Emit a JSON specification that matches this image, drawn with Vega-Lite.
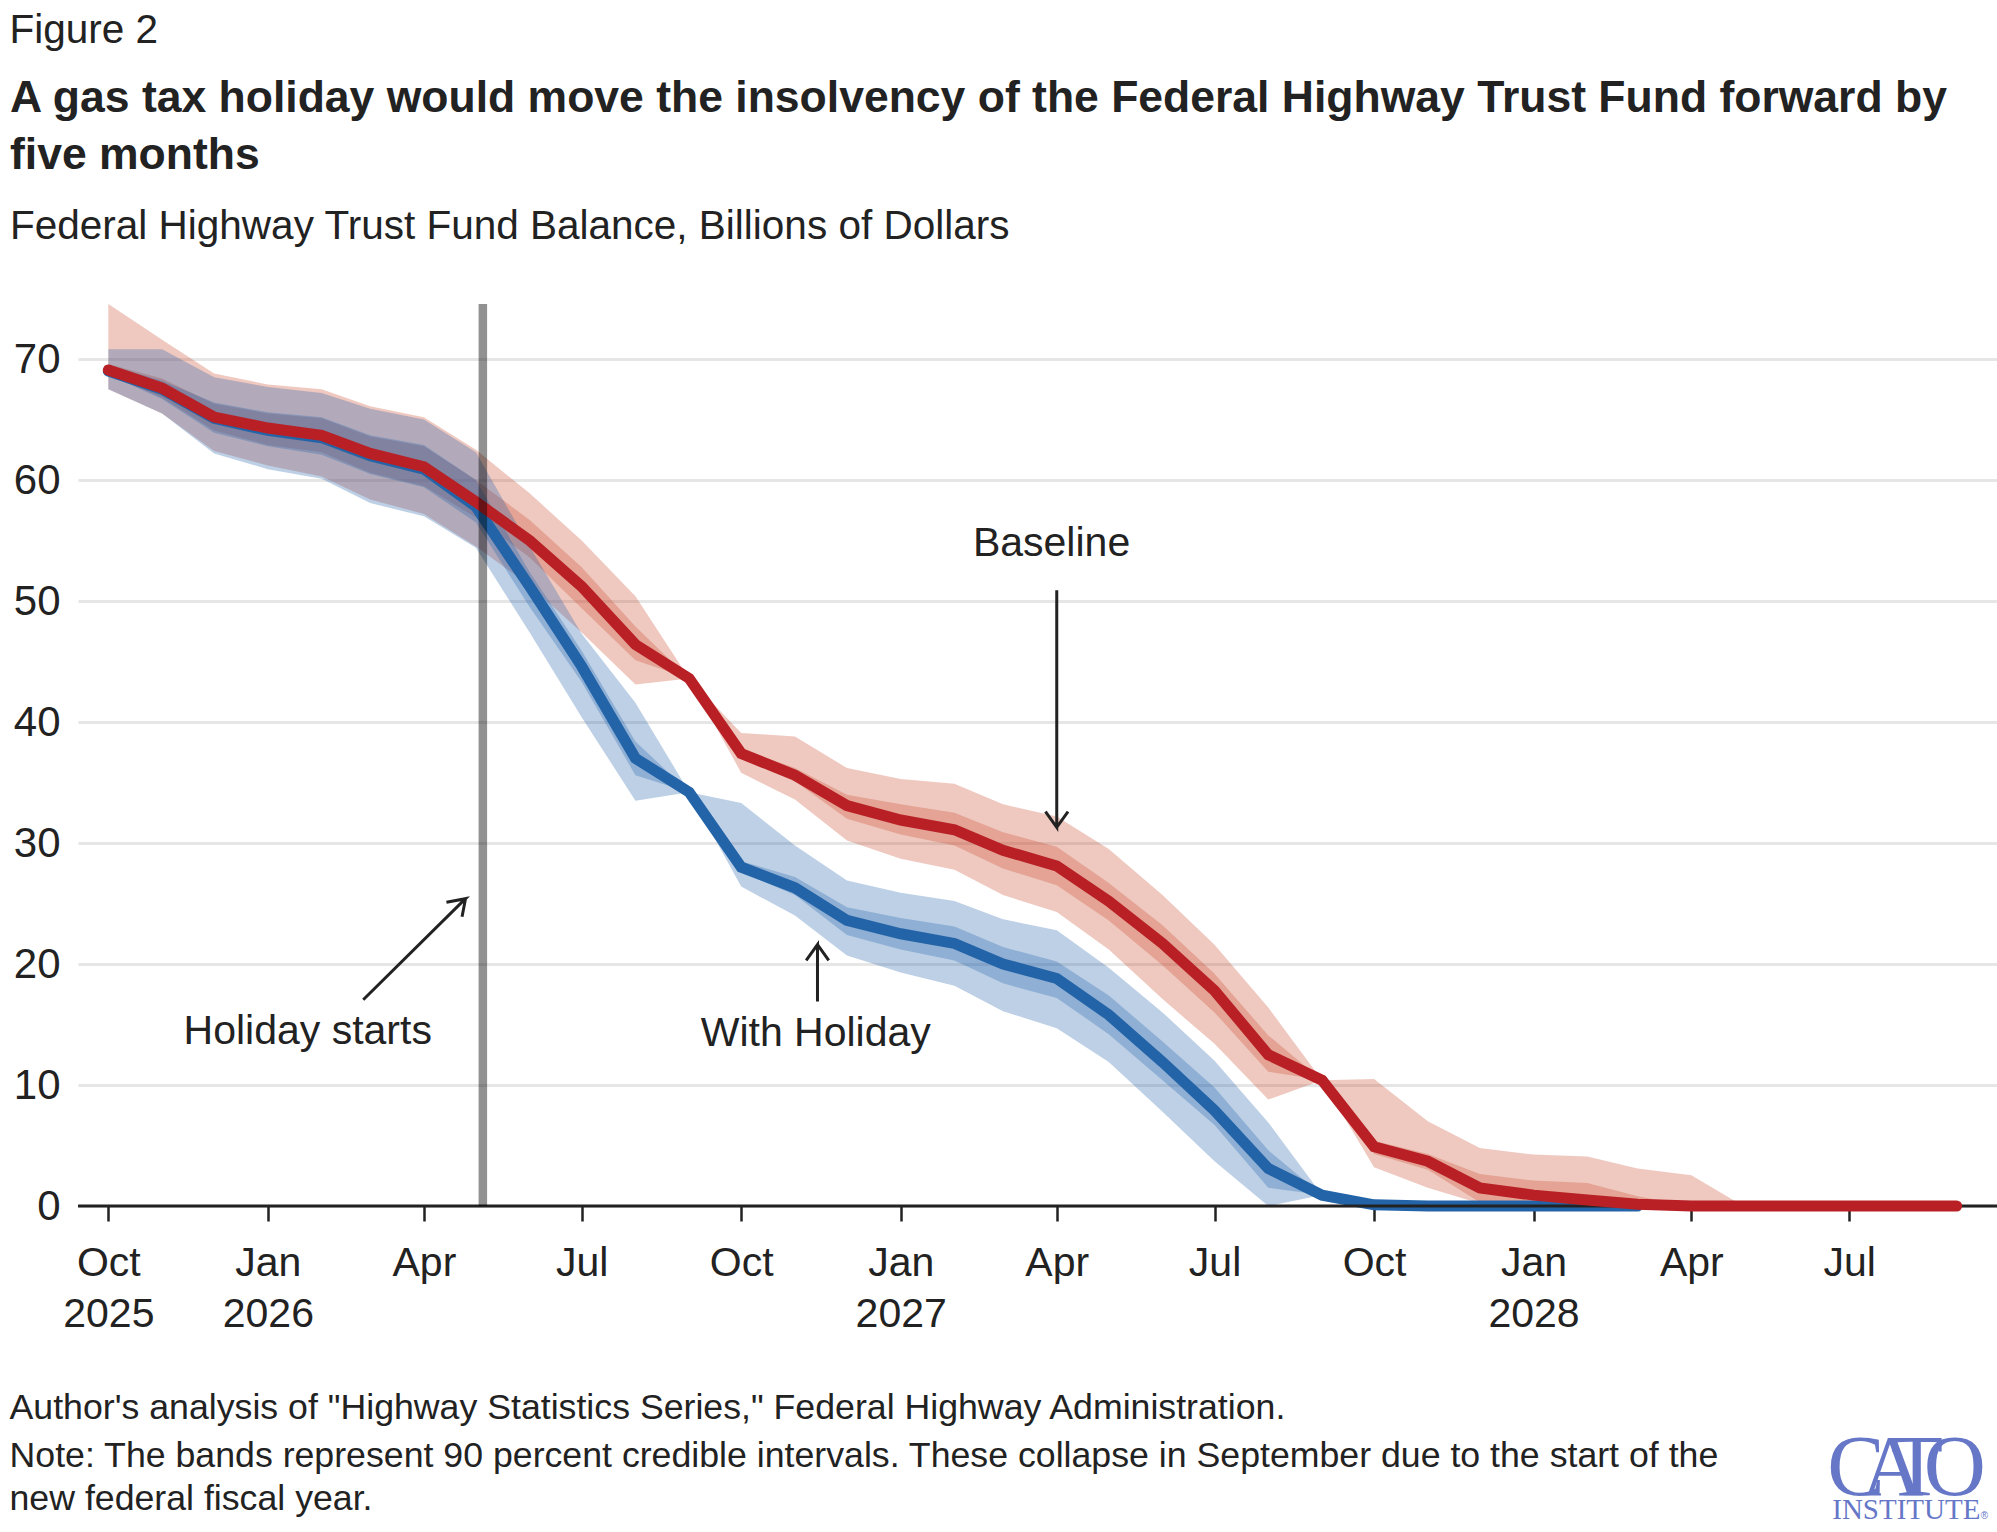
{
  "$schema": "https://vega.github.io/schema/vega-lite/v6.json",
  "width": 1919,
  "height": 902,
  "autosize": "none",
  "padding": {"left": 78, "top": 304, "right": 0, "bottom": 326},
  "background": "white",
  "title": {
    "text": ["A gas tax holiday would move the insolvency of the Federal Highway Trust Fund forward by", "five months"],
    "subtitle": "Federal Highway Trust Fund Balance, Billions of Dollars",
    "anchor": "start",
    "frame": "group",
    "dx": -68,
    "offset": -237.5,
    "font": "Liberation Sans",
    "fontSize": 44.5,
    "fontWeight": "bold",
    "lineHeight": 57,
    "color": "#222222",
    "subtitleFont": "Liberation Sans",
    "subtitleFontSize": 40.5,
    "subtitleColor": "#222222",
    "subtitlePadding": 29
  },
  "datasets": {
    "fund": [
      {"series": "Baseline", "date": "2025-10-01T00:00:00", "value": 69.1, "lo90": 67.5, "hi90": 74.55, "lo50": 68.7, "hi50": 69.6},
      {"series": "Baseline", "date": "2025-11-01T00:00:00", "value": 67.6, "lo90": 65.5, "hi90": 71.6, "lo50": 66.8, "hi50": 68.4},
      {"series": "Baseline", "date": "2025-12-01T00:00:00", "value": 65.2, "lo90": 62.4, "hi90": 68.8, "lo50": 64.1, "hi50": 66.3},
      {"series": "Baseline", "date": "2026-01-01T00:00:00", "value": 64.3, "lo90": 61.2, "hi90": 67.9, "lo50": 62.9, "hi50": 65.5},
      {"series": "Baseline", "date": "2026-02-01T00:00:00", "value": 63.7, "lo90": 60.3, "hi90": 67.5, "lo50": 62.3, "hi50": 65.1},
      {"series": "Baseline", "date": "2026-03-01T00:00:00", "value": 62.2, "lo90": 58.4, "hi90": 66.1, "lo50": 60.6, "hi50": 63.6},
      {"series": "Baseline", "date": "2026-04-01T00:00:00", "value": 61.1, "lo90": 57.2, "hi90": 65.2, "lo50": 59.5, "hi50": 62.8},
      {"series": "Baseline", "date": "2026-05-01T00:00:00", "value": 58.2, "lo90": 54.5, "hi90": 62.5, "lo50": 56.9, "hi50": 60.0},
      {"series": "Baseline", "date": "2026-06-01T00:00:00", "value": 55.0, "lo90": 51.3, "hi90": 58.9, "lo50": 53.6, "hi50": 56.7},
      {"series": "Baseline", "date": "2026-07-01T00:00:00", "value": 51.2, "lo90": 47.4, "hi90": 55.0, "lo50": 49.4, "hi50": 52.8},
      {"series": "Baseline", "date": "2026-08-01T00:00:00", "value": 46.4, "lo90": 43.1, "hi90": 50.4, "lo50": 45.1, "hi50": 47.9},
      {"series": "Baseline", "date": "2026-09-01T00:00:00", "value": 43.6, "lo90": 43.6, "hi90": 43.6, "lo50": 43.6, "hi50": 43.6},
      {"series": "Baseline", "date": "2026-10-01T00:00:00", "value": 37.4, "lo90": 35.8, "hi90": 39.1, "lo50": 37.0, "hi50": 37.8},
      {"series": "Baseline", "date": "2026-11-01T00:00:00", "value": 35.6, "lo90": 33.6, "hi90": 38.8, "lo50": 35.1, "hi50": 36.2},
      {"series": "Baseline", "date": "2026-12-01T00:00:00", "value": 33.1, "lo90": 30.2, "hi90": 36.2, "lo50": 32.0, "hi50": 34.0},
      {"series": "Baseline", "date": "2027-01-01T00:00:00", "value": 31.9, "lo90": 28.7, "hi90": 35.3, "lo50": 30.7, "hi50": 33.2},
      {"series": "Baseline", "date": "2027-02-01T00:00:00", "value": 31.1, "lo90": 27.8, "hi90": 34.9, "lo50": 29.8, "hi50": 32.5},
      {"series": "Baseline", "date": "2027-03-01T00:00:00", "value": 29.4, "lo90": 25.7, "hi90": 33.2, "lo50": 27.9, "hi50": 30.9},
      {"series": "Baseline", "date": "2027-04-01T00:00:00", "value": 28.1, "lo90": 24.3, "hi90": 32.2, "lo50": 26.5, "hi50": 29.7},
      {"series": "Baseline", "date": "2027-05-01T00:00:00", "value": 25.2, "lo90": 21.2, "hi90": 29.5, "lo50": 23.6, "hi50": 26.7},
      {"series": "Baseline", "date": "2027-06-01T00:00:00", "value": 21.7, "lo90": 17.1, "hi90": 25.7, "lo50": 19.9, "hi50": 23.2},
      {"series": "Baseline", "date": "2027-07-01T00:00:00", "value": 17.8, "lo90": 13.4, "hi90": 21.6, "lo50": 16.0, "hi50": 19.2},
      {"series": "Baseline", "date": "2027-08-01T00:00:00", "value": 12.5, "lo90": 8.8, "hi90": 16.4, "lo50": 11.1, "hi50": 14.1},
      {"series": "Baseline", "date": "2027-09-01T00:00:00", "value": 10.4, "lo90": 10.4, "hi90": 10.4, "lo50": 10.4, "hi50": 10.4},
      {"series": "Baseline", "date": "2027-10-01T00:00:00", "value": 4.9, "lo90": 3.2, "hi90": 10.5, "lo50": 4.3, "hi50": 5.4},
      {"series": "Baseline", "date": "2027-11-01T00:00:00", "value": 3.7, "lo90": 1.5, "hi90": 7.0, "lo50": 3.0, "hi50": 4.3},
      {"series": "Baseline", "date": "2027-12-01T00:00:00", "value": 1.5, "lo90": 0.2, "hi90": 4.8, "lo50": 0.3, "hi50": 2.65},
      {"series": "Baseline", "date": "2028-01-01T00:00:00", "value": 0.9, "lo90": 0, "hi90": 4.25, "lo50": 0, "hi50": 2.1},
      {"series": "Baseline", "date": "2028-02-01T00:00:00", "value": 0.5, "lo90": 0, "hi90": 4.1, "lo50": 0, "hi50": 1.9},
      {"series": "Baseline", "date": "2028-03-01T00:00:00", "value": 0.15, "lo90": 0, "hi90": 3.1, "lo50": 0, "hi50": 0.8},
      {"series": "Baseline", "date": "2028-04-01T00:00:00", "value": 0, "lo90": 0, "hi90": 2.55, "lo50": 0, "hi50": 0},
      {"series": "Baseline", "date": "2028-05-01T00:00:00", "value": 0, "lo90": 0, "hi90": 0, "lo50": 0, "hi50": 0},
      {"series": "Baseline", "date": "2028-06-01T00:00:00", "value": 0, "lo90": 0, "hi90": 0, "lo50": 0, "hi50": 0},
      {"series": "Baseline", "date": "2028-07-01T00:00:00", "value": 0, "lo90": 0, "hi90": 0, "lo50": 0, "hi50": 0},
      {"series": "Baseline", "date": "2028-08-01T00:00:00", "value": 0, "lo90": 0, "hi90": 0, "lo50": 0, "hi50": 0},
      {"series": "Baseline", "date": "2028-09-01T00:00:00", "value": 0, "lo90": 0, "hi90": 0, "lo50": 0, "hi50": 0},
      {"series": "With Holiday", "date": "2025-10-01T00:00:00", "value": 69.0, "lo90": 67.5, "hi90": 70.8, "lo50": 68.7, "hi50": 69.5},
      {"series": "With Holiday", "date": "2025-11-01T00:00:00", "value": 67.5, "lo90": 65.5, "hi90": 70.8, "lo50": 66.7, "hi50": 68.2},
      {"series": "With Holiday", "date": "2025-12-01T00:00:00", "value": 65.1, "lo90": 62.2, "hi90": 68.5, "lo50": 63.9, "hi50": 66.4},
      {"series": "With Holiday", "date": "2026-01-01T00:00:00", "value": 64.1, "lo90": 60.9, "hi90": 67.7, "lo50": 62.8, "hi50": 65.6},
      {"series": "With Holiday", "date": "2026-02-01T00:00:00", "value": 63.5, "lo90": 60.1, "hi90": 67.2, "lo50": 62.1, "hi50": 65.2},
      {"series": "With Holiday", "date": "2026-03-01T00:00:00", "value": 62.0, "lo90": 58.1, "hi90": 65.9, "lo50": 60.5, "hi50": 63.7},
      {"series": "With Holiday", "date": "2026-04-01T00:00:00", "value": 60.9, "lo90": 57.0, "hi90": 65.0, "lo50": 59.4, "hi50": 62.9},
      {"series": "With Holiday", "date": "2026-05-01T00:00:00", "value": 57.8, "lo90": 54.4, "hi90": 62.3, "lo50": 56.5, "hi50": 60.0},
      {"series": "With Holiday", "date": "2026-06-01T00:00:00", "value": 51.2, "lo90": 47.4, "hi90": 54.5, "lo50": 49.5, "hi50": 52.4},
      {"series": "With Holiday", "date": "2026-07-01T00:00:00", "value": 44.6, "lo90": 40.4, "hi90": 47.3, "lo50": 43.3, "hi50": 45.9},
      {"series": "With Holiday", "date": "2026-08-01T00:00:00", "value": 37.0, "lo90": 33.5, "hi90": 41.6, "lo50": 35.6, "hi50": 38.4},
      {"series": "With Holiday", "date": "2026-09-01T00:00:00", "value": 34.2, "lo90": 34.2, "hi90": 34.2, "lo50": 34.2, "hi50": 34.2},
      {"series": "With Holiday", "date": "2026-10-01T00:00:00", "value": 28.0, "lo90": 26.4, "hi90": 33.3, "lo50": 27.6, "hi50": 28.5},
      {"series": "With Holiday", "date": "2026-11-01T00:00:00", "value": 26.3, "lo90": 24.0, "hi90": 29.8, "lo50": 25.7, "hi50": 27.2},
      {"series": "With Holiday", "date": "2026-12-01T00:00:00", "value": 23.6, "lo90": 20.7, "hi90": 26.9, "lo50": 22.4, "hi50": 24.7},
      {"series": "With Holiday", "date": "2027-01-01T00:00:00", "value": 22.5, "lo90": 19.3, "hi90": 25.9, "lo50": 21.2, "hi50": 23.8},
      {"series": "With Holiday", "date": "2027-02-01T00:00:00", "value": 21.7, "lo90": 18.2, "hi90": 25.2, "lo50": 20.3, "hi50": 23.1},
      {"series": "With Holiday", "date": "2027-03-01T00:00:00", "value": 20.0, "lo90": 16.1, "hi90": 23.7, "lo50": 18.4, "hi50": 21.4},
      {"series": "With Holiday", "date": "2027-04-01T00:00:00", "value": 18.8, "lo90": 14.7, "hi90": 22.8, "lo50": 17.2, "hi50": 20.2},
      {"series": "With Holiday", "date": "2027-05-01T00:00:00", "value": 15.8, "lo90": 11.9, "hi90": 19.7, "lo50": 14.2, "hi50": 17.4},
      {"series": "With Holiday", "date": "2027-06-01T00:00:00", "value": 11.9, "lo90": 7.8, "hi90": 16.0, "lo50": 10.4, "hi50": 13.6},
      {"series": "With Holiday", "date": "2027-07-01T00:00:00", "value": 7.9, "lo90": 3.7, "hi90": 12.0, "lo50": 6.7, "hi50": 9.8},
      {"series": "With Holiday", "date": "2027-08-01T00:00:00", "value": 3.1, "lo90": 0, "hi90": 6.9, "lo50": 1.5, "hi50": 4.6},
      {"series": "With Holiday", "date": "2027-09-01T00:00:00", "value": 0.9, "lo90": 0.9, "hi90": 0.9, "lo50": 0.9, "hi50": 0.9},
      {"series": "With Holiday", "date": "2027-10-01T00:00:00", "value": 0.1, "lo90": 0.1, "hi90": 0.1, "lo50": 0.1, "hi50": 0.1},
      {"series": "With Holiday", "date": "2027-11-01T00:00:00", "value": 0, "lo90": 0, "hi90": 0, "lo50": 0, "hi50": 0},
      {"series": "With Holiday", "date": "2027-12-01T00:00:00", "value": 0, "lo90": 0, "hi90": 0, "lo50": 0, "hi50": 0},
      {"series": "With Holiday", "date": "2028-01-01T00:00:00", "value": 0, "lo90": 0, "hi90": 0, "lo50": 0, "hi50": 0},
      {"series": "With Holiday", "date": "2028-02-01T00:00:00", "value": 0, "lo90": 0, "hi90": 0, "lo50": 0, "hi50": 0},
      {"series": "With Holiday", "date": "2028-03-01T00:00:00", "value": 0, "lo90": 0, "hi90": 0, "lo50": 0, "hi50": 0}
    ],
    "arrows": [
      {"arrow": "baseline", "step": 1, "date": "2027-04-01T00:00:00", "value": 50.9},
      {"arrow": "baseline", "step": 2, "date": "2027-04-01T00:00:00", "value": 31.3},
      {"arrow": "baseline", "step": 3, "date": "2027-03-25T12:00:00", "value": 32.6},
      {"arrow": "baseline", "step": 4, "date": "2027-04-01T00:00:00", "value": 31.3},
      {"arrow": "baseline", "step": 5, "date": "2027-04-07T12:00:00", "value": 32.6},
      {"arrow": "holiday", "step": 1, "date": "2026-11-14T00:00:00", "value": 16.9},
      {"arrow": "holiday", "step": 2, "date": "2026-11-14T00:00:00", "value": 21.6},
      {"arrow": "holiday", "step": 3, "date": "2026-11-07T12:00:00", "value": 20.3},
      {"arrow": "holiday", "step": 4, "date": "2026-11-14T00:00:00", "value": 21.6},
      {"arrow": "holiday", "step": 5, "date": "2026-11-20T12:00:00", "value": 20.3},
      {"arrow": "start", "step": 1, "date": "2026-02-25T00:00:00", "value": 17.05},
      {"arrow": "start", "step": 2, "date": "2026-04-25T00:00:00", "value": 25.4},
      {"arrow": "start", "step": 3, "date": "2026-04-14T00:00:00", "value": 25.1},
      {"arrow": "start", "step": 4, "date": "2026-04-25T00:00:00", "value": 25.4},
      {"arrow": "start", "step": 5, "date": "2026-04-23T00:00:00", "value": 23.9}
    ]
  },
  "encoding": {
    "x": {
      "field": "date",
      "type": "temporal",
      "title": null,
      "scale": {
        "domain": [
          {"year": 2025, "month": 9, "date": 13, "hours": 12},
          {"year": 2028, "month": 9, "date": 24, "hours": 7}
        ]
      },
      "axis": {
        "values": [
          {"year": 2025, "month": 10, "date": 1},
          {"year": 2026, "month": 1, "date": 1},
          {"year": 2026, "month": 4, "date": 1},
          {"year": 2026, "month": 7, "date": 1},
          {"year": 2026, "month": 10, "date": 1},
          {"year": 2027, "month": 1, "date": 1},
          {"year": 2027, "month": 4, "date": 1},
          {"year": 2027, "month": 7, "date": 1},
          {"year": 2027, "month": 10, "date": 1},
          {"year": 2028, "month": 1, "date": 1},
          {"year": 2028, "month": 4, "date": 1},
          {"year": 2028, "month": 7, "date": 1}
        ],
        "labelExpr": "[timeFormat(datum.value, '%b'), (month(datum.value) == 0 || year(datum.value) == 2025) ? timeFormat(datum.value, '%Y') : '']",
        "labelFont": "Liberation Sans",
        "labelFontSize": 41,
        "labelColor": "#222222",
        "labelLineHeight": 51,
        "labelPadding": 22,
        "labelOverlap": false,
        "labelFlush": false,
        "labelBound": false,
        "tickSize": 15,
        "tickWidth": 2.5,
        "tickColor": "#222222",
        "domain": false,
        "grid": false
      }
    },
    "y": {
      "field": "value",
      "type": "quantitative",
      "title": null,
      "scale": {"domain": [0, 74.55], "nice": false}
    }
  },
  "layer": [
    {
      "data": {"name": "fund"},
      "transform": [{"filter": "datum.series === 'Baseline'"}],
      "mark": {"type": "area", "color": "#ca4b30", "opacity": 0.3},
      "encoding": {
        "y": {"field": "hi90", "type": "quantitative", "title": null},
        "y2": {"field": "lo90"}
      }
    },
    {
      "data": {"name": "fund"},
      "transform": [{"filter": "datum.series === 'Baseline'"}],
      "mark": {"type": "area", "color": "#ca4b30", "opacity": 0.3},
      "encoding": {
        "y": {"field": "hi50", "type": "quantitative", "title": null},
        "y2": {"field": "lo50"}
      }
    },
    {
      "data": {"name": "fund"},
      "transform": [{"filter": "datum.series === 'With Holiday'"}],
      "mark": {"type": "area", "color": "#2362ac", "opacity": 0.3},
      "encoding": {
        "y": {"field": "hi90", "type": "quantitative", "title": null},
        "y2": {"field": "lo90"}
      }
    },
    {
      "data": {"name": "fund"},
      "transform": [{"filter": "datum.series === 'With Holiday'"}],
      "mark": {"type": "area", "color": "#2362ac", "opacity": 0.3},
      "encoding": {
        "y": {"field": "hi50", "type": "quantitative", "title": null},
        "y2": {"field": "lo50"}
      }
    },
    {
      "data": {"name": "fund"},
      "transform": [{"filter": "datum.series === 'With Holiday'"}],
      "mark": {"type": "line", "color": "#2364a8", "strokeWidth": 11, "strokeCap": "round", "strokeJoin": "miter"}
    },
    {
      "data": {"values": [{"date": "2025-09-13T12:00:00", "end": "2028-09-24T07:00:00", "value": 0}]},
      "mark": {"type": "rule", "color": "#222222", "strokeWidth": 3},
      "encoding": {"x2": {"field": "end"}}
    },
    {
      "data": {"name": "fund"},
      "transform": [{"filter": "datum.series === 'Baseline'"}],
      "mark": {"type": "line", "color": "#b82025", "strokeWidth": 11, "strokeCap": "round", "strokeJoin": "miter"}
    },
    {
      "data": {"values": [{"date": "2026-05-05T00:00:00", "value": 74.55}]},
      "mark": {"type": "rule", "color": "#000000", "strokeWidth": 8.5, "opacity": 0.43},
      "encoding": {"y2": {"datum": 0}}
    },
    {
      "data": {"name": "arrows"},
      "mark": {"type": "line", "color": "#222222", "strokeWidth": 3, "strokeJoin": "miter"},
      "encoding": {
        "detail": {"field": "arrow"},
        "order": {"field": "step", "type": "quantitative"}
      }
    },
    {
      "data": {
        "values": [
          {"label": "Baseline", "date": "2027-03-29T00:00:00", "value": 54.7},
          {"label": "With Holiday", "date": "2026-11-13T00:00:00", "value": 14.2},
          {"label": "Holiday starts", "date": "2026-01-24T00:00:00", "value": 14.4}
        ]
      },
      "mark": {"type": "text", "font": "Liberation Sans", "fontSize": 41, "color": "#222222", "align": "center", "baseline": "middle"},
      "encoding": {"text": {"field": "label"}}
    },
    {
      "data": {"values": [{"label": "Figure 2", "date": "2025-08-05T00:00:00", "value": 97.1}]},
      "mark": {"type": "text", "font": "Liberation Sans", "fontSize": 40.5, "color": "#222222", "align": "left", "baseline": "middle"},
      "encoding": {"text": {"field": "label"}}
    },
    {
      "data": {
        "values": [
          {"label": "Author's analysis of \"Highway Statistics Series,\" Federal Highway Administration.", "date": "2025-08-05T00:00:00", "value": -16.7},
          {"label": "Note: The bands represent 90 percent credible intervals. These collapse in September due to the start of the", "date": "2025-08-05T00:00:00", "value": -20.7},
          {"label": "new federal fiscal year.", "date": "2025-08-05T00:00:00", "value": -24.2}
        ]
      },
      "mark": {"type": "text", "font": "Liberation Sans", "fontSize": 35.7, "color": "#222222", "align": "left", "baseline": "middle"},
      "encoding": {"text": {"field": "label"}}
    },
    {
      "data": {
        "values": [
          {"label": "C", "date": "2028-07-05T00:00:00", "value": -23.9},
          {"label": "A", "date": "2028-07-26T00:00:00", "value": -23.9},
          {"label": "T", "date": "2028-08-09T00:00:00", "value": -23.9},
          {"label": "O", "date": "2028-08-31T00:00:00", "value": -23.9}
        ]
      },
      "mark": {"type": "text", "font": "Liberation Serif", "fontSize": 86, "color": "#6677c8", "align": "center", "baseline": "alphabetic"},
      "encoding": {"text": {"field": "label"}}
    },
    {
      "data": {"values": [{"label": "INSTITUTE", "date": "2028-08-03T00:00:00", "value": -25.9}]},
      "mark": {"type": "text", "font": "Liberation Serif", "fontSize": 29, "color": "#6677c8", "align": "center", "baseline": "alphabetic"},
      "encoding": {"text": {"field": "label"}}
    },
    {
      "data": {"values": [{"label": "®", "date": "2028-09-17T00:00:00", "value": -25.6}]},
      "mark": {"type": "text", "font": "Liberation Sans", "fontSize": 10, "color": "#6677c8", "align": "center", "baseline": "middle"},
      "encoding": {"text": {"field": "label"}}
    }
  ],
  "config": {
    "view": {"stroke": null},
    "axisY": {
      "tickCount": 8,
      "labelFont": "Liberation Sans",
      "labelFontSize": 42,
      "labelColor": "#222222",
      "labelPadding": 18,
      "labelBound": false,
      "labelFlush": false,
      "ticks": false,
      "domain": false,
      "grid": true,
      "gridColor": "#e6e6e6",
      "gridWidth": 3
    }
  }
}
